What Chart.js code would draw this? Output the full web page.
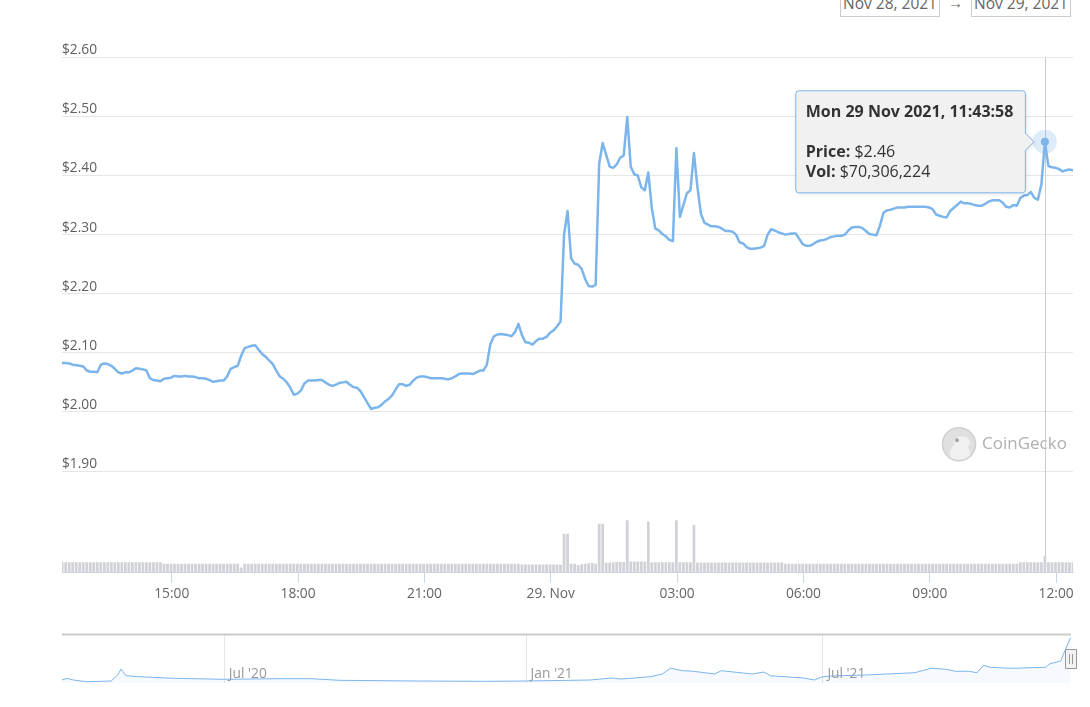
<!DOCTYPE html>
<html><head><meta charset="utf-8">
<script src="https://cdn.jsdelivr.net/npm/chart.js@4.4.0/dist/chart.umd.min.js"></script>
<style>
html,body{margin:0;padding:0;background:#fff;overflow:hidden;width:1090px;height:707px;position:relative;font-family:"Open Sans",sans-serif;}
#main{position:absolute;left:0;top:0;}
#nav{position:absolute;left:0;top:620px;}
.rng{position:absolute;top:-10px;height:25px;line-height:25px;width:98px;border:1px solid #cccccc;text-align:center;font-size:15.5px;color:#666;white-space:nowrap;}
.arr{position:absolute;top:-10px;height:25px;line-height:25px;font-size:15px;color:#666;}
</style></head>
<body>
<div class="rng" style="left:840px">Nov 28, 2021</div>
<div class="arr" style="left:948px">→</div>
<div class="rng" style="left:971px">Nov 29, 2021</div>
<canvas id="main" width="1090" height="620"></canvas>
<canvas id="nav" width="1090" height="87"></canvas>
<script>
// ---------- DATA ----------
const START_UTC = Date.UTC(2021, 10, 28, 12, 23, 58); // first sample time
const STEP_MIN = 5;                                    // sample spacing (minutes)
const HOVER = 280;                                     // hovered sample index

const prices = [
2.083,2.083,2.082,2.080,2.079,2.078,2.077,2.070,2.068,2.068,
2.067,2.080,2.082,2.081,2.078,2.073,2.067,2.065,2.067,2.067,
2.070,2.074,2.073,2.072,2.070,2.057,2.054,2.053,2.052,2.056,
2.057,2.058,2.061,2.060,2.060,2.061,2.060,2.060,2.059,2.057,
2.057,2.056,2.054,2.051,2.052,2.053,2.053,2.060,2.073,2.076,
2.078,2.095,2.108,2.110,2.112,2.113,2.105,2.098,2.093,2.087,
2.081,2.070,2.060,2.056,2.050,2.041,2.029,2.031,2.036,2.048,
2.053,2.053,2.053,2.054,2.054,2.050,2.046,2.044,2.046,2.049,
2.050,2.051,2.046,2.042,2.041,2.035,2.025,2.015,2.005,2.007,
2.008,2.012,2.018,2.022,2.028,2.038,2.047,2.047,2.044,2.046,
2.053,2.058,2.060,2.060,2.059,2.057,2.057,2.057,2.057,2.056,
2.055,2.057,2.060,2.064,2.065,2.065,2.065,2.064,2.067,2.070,
2.070,2.080,2.115,2.128,2.131,2.132,2.131,2.130,2.128,2.135,
2.149,2.130,2.118,2.117,2.114,2.120,2.124,2.124,2.127,2.134,
2.138,2.145,2.153,2.300,2.340,2.260,2.251,2.249,2.242,2.225,
2.213,2.212,2.215,2.420,2.455,2.435,2.415,2.413,2.419,2.430,
2.434,2.499,2.415,2.402,2.400,2.380,2.375,2.405,2.345,2.310,
2.307,2.301,2.297,2.291,2.289,2.446,2.330,2.350,2.370,2.375,
2.438,2.380,2.335,2.320,2.317,2.314,2.314,2.313,2.310,2.306,
2.306,2.305,2.300,2.287,2.285,2.279,2.276,2.276,2.277,2.278,
2.281,2.300,2.309,2.307,2.304,2.302,2.300,2.301,2.302,2.302,
2.293,2.284,2.281,2.281,2.284,2.288,2.290,2.291,2.293,2.296,
2.297,2.298,2.298,2.300,2.307,2.312,2.313,2.313,2.311,2.306,
2.301,2.300,2.299,2.315,2.337,2.341,2.342,2.344,2.346,2.346,
2.346,2.347,2.347,2.347,2.347,2.347,2.347,2.346,2.343,2.334,
2.332,2.330,2.329,2.340,2.345,2.350,2.356,2.353,2.353,2.352,
2.350,2.349,2.349,2.352,2.356,2.358,2.358,2.358,2.354,2.347,
2.346,2.350,2.349,2.362,2.366,2.367,2.372,2.362,2.359,2.385,
2.457,2.416,2.414,2.413,2.411,2.407,2.409,2.410,2.409
];

// volume in millions of USD
const volumesM = [
44,45,44,44,45,44,44,45,44,44,
45,44,44,45,44,44,45,44,44,45,
44,44,45,44,44,45,44,44,45,38,
38,38,38,38,38,38,38,38,38,38,
38,38,38,38,38,38,38,38,38,38,
38,21,38,38,38,38,38,38,38,38,
38,38,38,38,38,38,38,38,38,38,
38,38,38,38,38,38,38,38,38,38,
38,38,38,38,38,38,38,38,38,38,
38,38,38,38,38,38,38,38,38,38,
38,38,38,38,38,38,38,38,38,38,
38,38,38,38,38,38,38,38,38,38,
38,38,38,38,38,38,38,38,38,38,
38,35,35,35,35,35,35,35,35,35,
35,35,35,170,170,38,38,32,36,38,
40,41,38,214,214,42,42,44,46,46,
46,229,48,48,48,48,48,224,44,44,
44,44,44,44,44,229,44,44,44,44,
208,43,43,43,43,43,43,43,43,43,
43,43,43,43,43,43,43,43,43,43,
43,43,43,43,43,43,38,38,38,38,
38,38,38,38,38,38,38,38,38,38,
38,38,38,38,38,38,38,38,38,38,
38,38,38,38,38,38,38,38,38,38,
38,38,38,38,38,38,38,38,38,38,
38,38,38,38,38,38,38,38,38,38,
38,38,38,38,38,38,38,38,38,38,
38,38,38,44,44,44,44,44,44,44,
70.306224,44,44,44,44,44,44,44,44
];

const priceTicks = [1.90, 2.00, 2.10, 2.20, 2.30, 2.40, 2.50, 2.60];
const xTickHours = [15, 18, 21, 24, 27, 30, 33, 36];   // hours since 28 Nov 00:00
const xTickLabels = ['15:00', '18:00', '21:00', '29. Nov', '03:00', '06:00', '09:00', '12:00'];

// navigator (full history)
const navDates = ['2020-03-24','2020-03-27','2020-03-31','2020-04-08','2020-04-23','2020-04-27','2020-04-29','2020-05-02','2020-05-10','2020-05-31',
'2020-07-01','2020-08-02','2020-08-23','2020-09-09','2020-10-26','2020-12-07','2021-01-01','2021-02-09','2021-02-22','2021-02-28',
'2021-03-18','2021-03-25','2021-03-30','2021-04-07','2021-04-13','2021-04-26','2021-04-30','2021-05-19','2021-05-26','2021-05-30',
'2021-06-19','2021-06-26','2021-06-30','2021-07-06','2021-07-27','2021-08-26','2021-09-05','2021-09-14','2021-09-20','2021-09-28',
'2021-10-03','2021-10-07','2021-10-11','2021-10-24','2021-11-14','2021-11-16','2021-11-23','2021-11-25','2021-11-29'];
const navPrices = [1.328,1.372,1.328,1.284,1.302,1.458,1.615,1.440,1.414,1.372,
1.346,1.362,1.362,1.320,1.302,1.294,1.302,1.328,1.380,1.354,
1.414,1.484,1.633,1.570,1.555,1.484,1.570,1.484,1.536,1.440,
1.380,1.328,1.406,1.432,1.458,1.518,1.633,1.607,1.555,1.555,
1.518,1.711,1.659,1.633,1.659,1.745,1.823,2.031,2.430];
const navTickDates = ['2020-07-01', '2021-01-01', '2021-07-01'];
const navTickLabels = ["Jul '20", "Jan '21", "Jul '21"];

// ---------- HELPERS ----------
const DAY0 = Date.UTC(2021, 10, 28);
const hoursOf = i => (START_UTC - DAY0) / 3.6e6 + i * STEP_MIN / 60;
const dayOf = s => Date.parse(s + 'T00:00:00Z') / 864e5;
const FONT = '"Open Sans", sans-serif';
Chart.defaults.font.family = FONT;
const BLUE = '#7cb5ec';

function pad2(n){ return (n < 10 ? '0' : '') + n; }
function fmtTitle(ms){
  const d = new Date(ms);
  const days = ['Sun','Mon','Tue','Wed','Thu','Fri','Sat'];
  const mons = ['Jan','Feb','Mar','Apr','May','Jun','Jul','Aug','Sep','Oct','Nov','Dec'];
  return days[d.getUTCDay()] + ' ' + d.getUTCDate() + ' ' + mons[d.getUTCMonth()] + ' ' + d.getUTCFullYear() +
    ', ' + pad2(d.getUTCHours()) + ':' + pad2(d.getUTCMinutes()) + ':' + pad2(d.getUTCSeconds());
}

function calloutPath(ctx, l, t, w, h, r, tipX, tipY, cs){
  const R = l + w, B = t + h;
  ctx.beginPath();
  ctx.moveTo(l + r, t);
  ctx.lineTo(R - r, t);
  ctx.arcTo(R, t, R, t + r, r);
  ctx.lineTo(R, tipY - cs);
  ctx.lineTo(tipX, tipY);
  ctx.lineTo(R, tipY + cs);
  ctx.lineTo(R, B - r);
  ctx.arcTo(R, B, R - r, B, r);
  ctx.lineTo(l + r, B);
  ctx.arcTo(l, B, l, B - r, r);
  ctx.lineTo(l, t + r);
  ctx.arcTo(l, t, l + r, t, r);
  ctx.closePath();
}

const decor = {
  id: 'decor',
  beforeDatasetsDraw(chart){
    const ctx = chart.ctx, a = chart.chartArea;
    ctx.save();
    // CoinGecko watermark
    const lx = a.right - 114, ly = a.top + 387;
    ctx.beginPath(); ctx.arc(lx, ly, 16.5, 0, Math.PI * 2);
    ctx.fillStyle = '#e0e0e0'; ctx.fill();
    ctx.lineWidth = 1.5; ctx.strokeStyle = '#d0d0d0'; ctx.stroke();
    ctx.save(); ctx.beginPath(); ctx.arc(lx, ly, 15.5, 0, Math.PI * 2); ctx.clip();
    ctx.fillStyle = '#f0f0f0';
    ctx.beginPath(); ctx.ellipse(lx + 1, ly + 10, 10, 12, 0, 0, Math.PI * 2); ctx.fill();
    ctx.beginPath(); ctx.ellipse(lx + 3, ly - 2, 8, 6, 0, 0, Math.PI * 2); ctx.fill();
    ctx.restore();
    ctx.beginPath(); ctx.arc(lx - 2, ly - 4, 2, 0, Math.PI * 2); ctx.fillStyle = '#a8a8a8'; ctx.fill();
    ctx.font = '17px ' + FONT; ctx.fillStyle = '#b0b0b0'; ctx.textBaseline = 'middle'; ctx.textAlign = 'left';
    ctx.fillText('CoinGecko', lx + 23, ly);
    // crosshair
    const pt = chart.getDatasetMeta(0).data[HOVER];
    const cx = Math.round(pt.x) + 0.5;
    ctx.strokeStyle = '#cccccc'; ctx.lineWidth = 1;
    ctx.beginPath(); ctx.moveTo(cx, a.top); ctx.lineTo(cx, a.bottom); ctx.stroke();
    ctx.restore();
  },
  afterDatasetsDraw(chart){
    const ctx = chart.ctx;
    const pt = chart.getDatasetMeta(0).data[HOVER];
    ctx.save();
    ctx.beginPath(); ctx.arc(pt.x, pt.y, 12, 0, Math.PI * 2);
    ctx.fillStyle = 'rgba(124,181,236,0.25)'; ctx.fill();
    ctx.beginPath(); ctx.arc(pt.x, pt.y, 4, 0, Math.PI * 2);
    ctx.fillStyle = BLUE; ctx.fill();
    ctx.restore();
  },
  afterDraw(chart){
    const ctx = chart.ctx;
    const pt = chart.getDatasetMeta(0).data[HOVER];
    const title = fmtTitle(START_UTC + HOVER * STEP_MIN * 60000);
    const rows = [
      ['Price: ', '$' + prices[HOVER].toFixed(2)],
      ['Vol: ', '$' + Math.round(volumesM[HOVER] * 1e6).toLocaleString('en-US')]
    ];
    ctx.save();
    const bold = 'bold 16px ' + FONT, norm = '16px ' + FONT;
    ctx.font = bold;
    let maxW = ctx.measureText(title).width;
    rows.forEach(r => {
      ctx.font = bold; let w = ctx.measureText(r[0]).width;
      ctx.font = norm; w += ctx.measureText(r[1]).width;
      maxW = Math.max(maxW, w);
    });
    const right = pt.x - 19.5, W = maxW + 22, left = right - W;
    const top = pt.y - 51, H = 102;
    ctx.shadowColor = 'rgba(0,0,0,0.13)'; ctx.shadowBlur = 4; ctx.shadowOffsetX = 1; ctx.shadowOffsetY = 1;
    calloutPath(ctx, left, top, W, H, 3, right + 8.5, pt.y, 8.5);
    ctx.fillStyle = 'rgba(241,241,241,0.96)'; ctx.fill();
    ctx.shadowColor = 'transparent';
    ctx.lineWidth = 1; ctx.strokeStyle = BLUE; ctx.stroke();
    ctx.fillStyle = '#333333'; ctx.textBaseline = 'alphabetic'; ctx.textAlign = 'left';
    ctx.font = bold; ctx.fillText(title, left + 10, top + 26);
    rows.forEach((r, k) => {
      const y = top + 66 + k * 20;
      ctx.font = bold; ctx.fillText(r[0], left + 10, y);
      const w = ctx.measureText(r[0]).width;
      ctx.font = norm; ctx.fillText(r[1], left + 10 + w, y);
    });
    ctx.restore();
  }
};

// ---------- MAIN CHART ----------
new Chart(document.getElementById('main'), {
  type: 'line',
  data: {
    datasets: [
      {
        type: 'line', label: 'Price', yAxisID: 'y', order: 0,
        data: prices.map((p, i) => ({ x: hoursOf(i), y: p })),
        borderColor: BLUE, borderWidth: 2.5, pointRadius: 0, tension: 0,
        borderJoinStyle: 'round', borderCapStyle: 'round', fill: false
      },
      {
        type: 'bar', label: 'Volume', yAxisID: 'yv', order: 1,
        data: volumesM.map((v, i) => ({ x: hoursOf(i), y: v })),
        backgroundColor: '#d0d2d8', borderWidth: 0, barThickness: 2.1
      }
    ]
  },
  options: {
    responsive: false, animation: false, events: [],
    layout: { padding: { left: 62, right: 17, top: 57.3, bottom: 0 } },
    plugins: { legend: { display: false }, tooltip: { enabled: false } },
    scales: {
      x: {
        type: 'linear', min: 12.395, max: 36.40, offset: false,
        afterBuildTicks: s => { s.ticks = xTickHours.map(v => ({ value: v })); },
        afterFit: s => { s.height = 47.3; },
        grid: { display: true, drawOnChartArea: false, drawTicks: true, tickLength: 10, color: '#ccd6eb', offset: false },
        border: { display: true, color: '#ccd6eb', width: 1 },
        ticks: { autoSkip: false, maxRotation: 0, padding: 3, color: '#666666', font: { size: 13.75 },
          callback: (v, i) => xTickLabels[i] }
      },
      y: {
        type: 'linear', position: 'left', min: 1.728, max: 2.60,
        afterBuildTicks: s => { s.ticks = priceTicks.map(v => ({ value: v })); },
        afterFit: s => { s.width = 0; },
        grid: { color: '#e6e6e6', lineWidth: 1, drawTicks: false },
        border: { display: false },
        ticks: { mirror: true, padding: 0, labelOffset: -7, color: '#5f5f5f', font: { size: 13.75 },
          callback: v => '$' + Number(v).toFixed(2) }
      },
      yv: { type: 'linear', position: 'right', display: false, min: 0, max: 2265 }
    }
  },
  plugins: [decor]
});

// ---------- NAVIGATOR ----------
const navDecor = {
  id: 'navDecor',
  afterDraw(chart){
    const ctx = chart.ctx, a = chart.chartArea, sx = chart.scales.x;
    ctx.save();
    ctx.strokeStyle = '#cccccc'; ctx.lineWidth = 2;
    ctx.beginPath(); ctx.moveTo(a.left, a.top - 0.5); ctx.lineTo(a.right, a.top - 0.5); ctx.stroke();
    ctx.font = '13.75px ' + FONT; ctx.fillStyle = '#999999'; ctx.textBaseline = 'middle'; ctx.textAlign = 'left';
    navTickDates.forEach((d, i) => { ctx.fillText(navTickLabels[i], sx.getPixelForValue(dayOf(d)) + 4.5, a.top + 39); });
    // handle at right end of selected range
    const hx = a.right;
    ctx.fillStyle = '#f2f2f2'; ctx.strokeStyle = '#999999'; ctx.lineWidth = 1;
    ctx.beginPath(); ctx.rect(hx - 5.5, a.top + 14.5, 11, 19); ctx.fill(); ctx.stroke();
    ctx.beginPath(); ctx.moveTo(hx - 1.5, a.top + 19); ctx.lineTo(hx - 1.5, a.top + 29);
    ctx.moveTo(hx + 1.5, a.top + 19); ctx.lineTo(hx + 1.5, a.top + 29); ctx.stroke();
    ctx.restore();
  }
};

new Chart(document.getElementById('nav'), {
  type: 'line',
  data: {
    datasets: [{
      data: navDates.map((d, i) => ({ x: dayOf(d), y: navPrices[i] })),
      borderColor: BLUE, borderWidth: 1, backgroundColor: 'rgba(124,181,236,0.07)',
      fill: 'start', pointRadius: 0, tension: 0
    }]
  },
  options: {
    responsive: false, animation: false, events: [],
    layout: { padding: { left: 62, right: 19, top: 15, bottom: 24 } },
    plugins: { legend: { display: false }, tooltip: { enabled: false } },
    scales: {
      x: {
        type: 'linear', min: dayOf('2020-03-24'), max: dayOf('2021-11-29') + 0.3,
        afterBuildTicks: s => { s.ticks = navTickDates.map(d => ({ value: dayOf(d) })); },
        afterFit: s => { s.height = 0; },
        ticks: { display: false },
        grid: { color: '#e6e6e6', drawTicks: false },
        border: { display: false }
      },
      y: { display: false, min: 1.25, max: 2.50 }
    }
  },
  plugins: [navDecor]
});
</script>
</body></html>
